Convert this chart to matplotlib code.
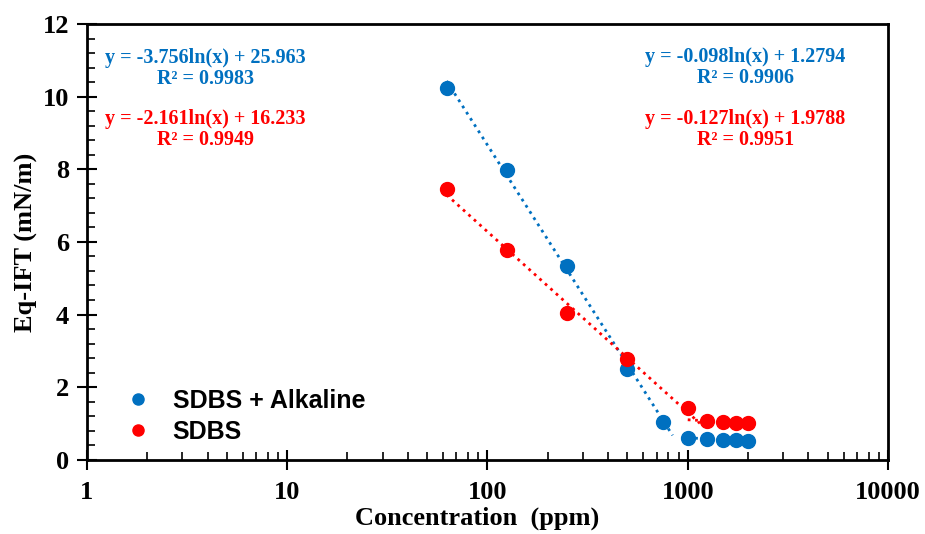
import numpy as np
import matplotlib.pyplot as plt
from matplotlib.ticker import FixedLocator, MultipleLocator, LogLocator, NullFormatter

# Datos
conc = [62.5, 125, 250, 500, 750, 1000, 1250, 1500, 1750, 2000]
ift_alk = [10.25, 7.97, 5.35, 2.50, 1.05, 0.60, 0.57, 0.55, 0.55, 0.53]
conc_sdbs = [62.5, 125, 250, 500, 1000, 1250, 1500, 1750, 2000]
ift_sdbs = [7.45, 5.78, 4.03, 2.78, 1.42, 1.07, 1.05, 1.02, 1.02]

# Lineas de tendencia logaritmicas (pendiente, intercepto, rango de x)
fit_alk_1 = [-3.756, 25.963, 62.5, 840]
fit_alk_2 = [-0.098, 1.2794, 1000, 2000]
fit_sdbs_1 = [-2.161, 16.233, 62.5, 1150]
fit_sdbs_2 = [-0.127, 1.9788, 1000, 2000]

eq_alk_1 = "y = -3.756ln(x) + 25.963\nR\u00b2 = 0.9983"
eq_sdbs_1 = "y = -2.161ln(x) + 16.233\nR\u00b2 = 0.9949"
eq_alk_2 = "y = -0.098ln(x) + 1.2794\nR\u00b2 = 0.9906"
eq_sdbs_2 = "y = -0.127ln(x) + 1.9788\nR\u00b2 = 0.9951"

azul = '#0070C0'
rojo = '#FF0000'

plt.rcParams['font.family'] = 'Liberation Serif'
plt.rcParams['font.weight'] = 'bold'

fig = plt.figure(figsize=(9.25, 5.34), dpi=100)
ax = fig.add_axes([0.094, 0.139, 0.866, 0.816])


def trend(f, color):
    xs = np.geomspace(f[2], f[3], 50)
    ax.plot(xs, f[0] * np.log(xs) + f[1], ':', color=color, lw=2, zorder=2)


trend(fit_alk_1, azul)
trend(fit_alk_2, azul)
trend(fit_sdbs_1, rojo)
trend(fit_sdbs_2, rojo)

ax.plot(conc, ift_alk, 'o', color=azul, ms=10, ls='none', label='SDBS + Alkaline', zorder=3)
ax.plot(conc_sdbs, ift_sdbs, 'o', color=rojo, ms=10, ls='none', label='SDBS', zorder=3)

ax.set_xscale('log')
ax.set_xlim(1, 10000)
ax.set_ylim(0, 12)
ax.xaxis.set_major_locator(FixedLocator([1, 10, 100, 1000, 10000]))
ax.set_xticklabels(['1', '10', '100', '1000', '10000'])
ax.xaxis.set_minor_locator(LogLocator(base=10, subs=np.arange(2, 10), numticks=20))
ax.xaxis.set_minor_formatter(NullFormatter())
ax.yaxis.set_major_locator(MultipleLocator(2))
ax.yaxis.set_minor_locator(MultipleLocator(0.4))

ax.tick_params(which='major', direction='inout', length=14, width=1.5, labelsize=19)
ax.tick_params(axis='x', which='major', pad=8)
ax.tick_params(axis='y', which='major', pad=6)
ax.tick_params(which='minor', direction='in', length=6, width=1.2)
for s in ax.spines.values():
    s.set_linewidth(2)

ax.set_xlabel('Concentration  (ppm)', fontsize=19, fontweight='bold')
ax.set_ylabel('Eq-IFT (mN/m)', fontsize=19, fontweight='bold')
ax.xaxis.set_label_coords(0.487, -0.108)
ax.yaxis.set_label_coords(-0.061, 0.5)

ax.text(0.148, 0.898, eq_alk_1, transform=ax.transAxes, color=azul, fontsize=14.5,
        ha='center', va='center', multialignment='center', linespacing=1.1)
ax.text(0.148, 0.758, eq_sdbs_1, transform=ax.transAxes, color=rojo, fontsize=14.5,
        ha='center', va='center', multialignment='center', linespacing=1.1)
ax.text(0.822, 0.900, eq_alk_2, transform=ax.transAxes, color=azul, fontsize=14.5,
        ha='center', va='center', multialignment='center', linespacing=1.1)
ax.text(0.822, 0.758, eq_sdbs_2, transform=ax.transAxes, color=rojo, fontsize=14.5,
        ha='center', va='center', multialignment='center', linespacing=1.1)

ax.legend(loc='lower left', bbox_to_anchor=(0.004, -0.016), frameon=False, markerscale=0.8,
          handletextpad=0.4, labelspacing=0.3,
          prop={'family': 'Liberation Sans', 'weight': 'bold', 'size': 18})

fig.savefig('out.png', dpi=100)
